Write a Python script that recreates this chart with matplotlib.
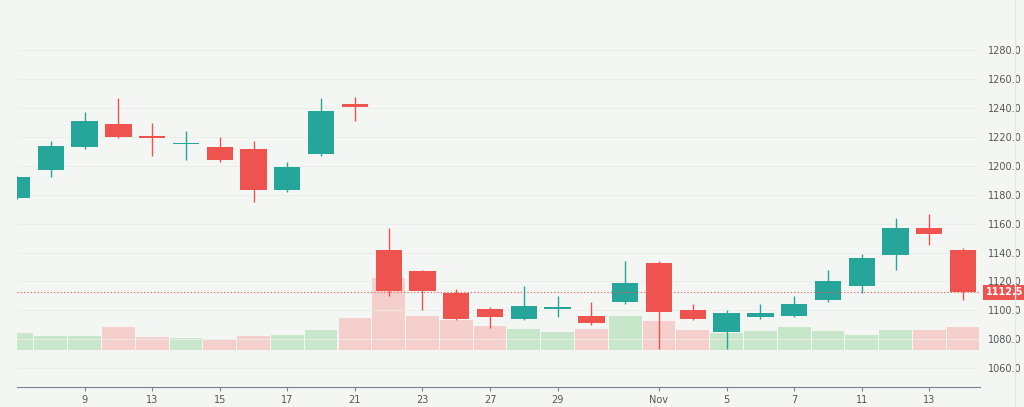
import matplotlib
matplotlib.use("Agg")
import matplotlib.pyplot as plt

opens  = [1178, 1197, 1213, 1229, 1221, 1215, 1213, 1212, 1183, 1208, 1243, 1142, 1127, 1112, 1101, 1094, 1101, 1096, 1106, 1133, 1100, 1085, 1095, 1096, 1107, 1117, 1138, 1157, 1142]
closes = [1192, 1214, 1231, 1220, 1219, 1216, 1204, 1183, 1199, 1238, 1241, 1113, 1113, 1094, 1095, 1103, 1101.5, 1091, 1119, 1099, 1094, 1098, 1098, 1104, 1120, 1136, 1157, 1153, 1112.5]
highs  = [1193, 1217, 1237, 1247, 1230, 1224, 1220, 1217, 1203, 1247, 1248, 1157, 1128, 1115, 1102, 1117, 1110, 1106, 1134, 1134, 1104, 1100, 1104, 1110, 1128, 1139, 1164, 1167, 1143]
lows   = [1177, 1192, 1212, 1219, 1207, 1204, 1203, 1175, 1182, 1207, 1231, 1110, 1100, 1093, 1088, 1093, 1095, 1090, 1104, 1073, 1093, 1073, 1094, 1095, 1106, 1112, 1128, 1145, 1107]
volumes = [18, 15, 15, 24, 14, 13, 11, 15, 16, 21, 34, 76, 36, 32, 25, 22, 19, 22, 36, 31, 21, 18, 20, 24, 20, 16, 21, 21, 24]
tick_pos = [2, 4, 6, 8, 10, 12, 14, 16, 19, 21, 23, 25, 27]
tick_labels = ["9", "13", "15", "17", "21", "23", "27", "29", "Nov", "5", "7", "11", "13"]
last_price = 1112.5

G, R = "#26a69a", "#ef5350"
GV, RV = "#c8e6c9", "#f5cfcc"
bg = "#f3f6f3"

xs = list(range(len(opens)))

fig = plt.figure(figsize=(10.24, 4.07), dpi=100, facecolor=bg)
ax = fig.add_axes([17/1024, 20/407, (980-17)/1024, 387/407 - 20/407])
ppu = 335/220
ytop = 1280 + 32/ppu
ybot = 1280 - (387-32)/ppu
ax.set_ylim(ybot, ytop)
ax.set_xlim(0, 28.5)

axv = ax.twinx()
axv.set_ylim(-39, 348)
axv.set_xlim(0, 28.5)
axv.set_axis_off()
axv.set_zorder(0); ax.set_zorder(1); ax.patch.set_visible(False)
for i in xs:
    up = closes[i] >= opens[i]
    axv.bar(i, volumes[i], width=0.97, color=GV if up else RV, linewidth=0)

for i in xs:
    up = closes[i] >= opens[i]
    c = G if up else R
    ax.vlines(i, lows[i], highs[i], color=c, linewidth=1)
    lo, hi = min(opens[i], closes[i]), max(opens[i], closes[i])
    ax.bar(i, max(hi - lo, 1), bottom=lo, width=0.78, color=c, linewidth=0)

yt = list(range(1060, 1300, 20))
for y in yt:
    ax.axhline(y, color="#eaeeea", linewidth=0.6, zorder=0)
ax.axhline(last_price, color=R, linestyle=(0, (1, 2)), linewidth=0.8)

ax.yaxis.tick_right()
ax.set_yticks(yt)
ax.set_yticklabels([f"{y}.0" for y in yt], fontsize=7, color="#555555")
ax.tick_params(axis="y", length=0, pad=6)
ax.set_xticks(tick_pos)
ax.set_xticklabels(tick_labels, fontsize=7, color="#555555")
ax.tick_params(axis="x", length=3, color="#888888", pad=3)
for s in ["top", "right", "left"]:
    ax.spines[s].set_visible(False)
ax.spines["bottom"].set_color("#7a8090")
ax.text(1.006, (last_price - ybot) / (ytop - ybot), "1112.5", transform=ax.transAxes,
        fontsize=7, color="white", fontweight="bold", va="center", ha="left",
        bbox=dict(boxstyle="square,pad=0.25", fc=R, ec="none"))
fig.add_artist(plt.Line2D([1015/1024, 1015/1024], [0, 1], color="#e4e8e4", linewidth=1))
fig.savefig("out.png", dpi=100, facecolor=bg)
